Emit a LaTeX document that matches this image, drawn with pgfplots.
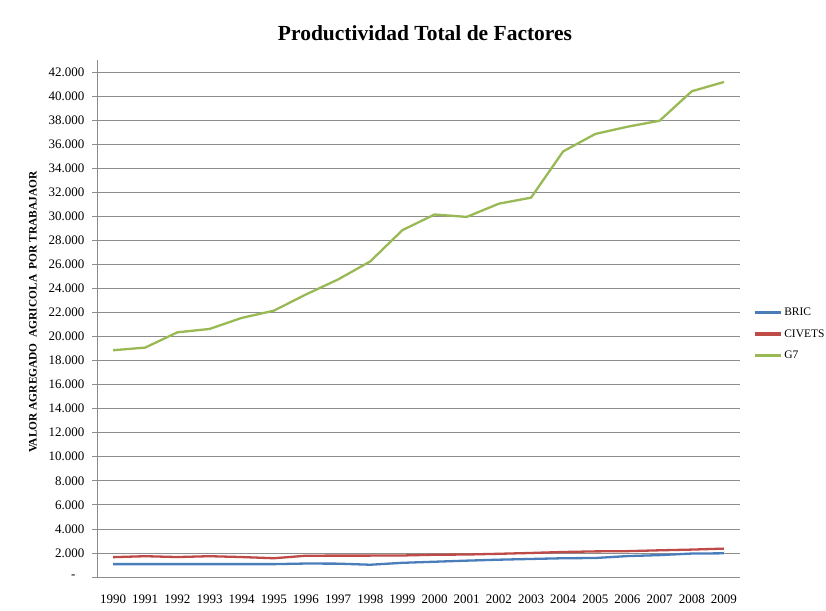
\documentclass[border=0pt]{standalone}
\usepackage{pgfplots}
\pgfplotsset{compat=1.18}
\usepackage{fontspec}
\setmainfont{Liberation Serif}
\definecolor{bric}{HTML}{4A7EBB}
\definecolor{civets}{HTML}{BE4B48}
\definecolor{gseven}{HTML}{98B954}
\definecolor{gridc}{HTML}{8C8C8C}
\begin{document}
\begin{tikzpicture}[x=1pt,y=1pt]
\path[use as bounding box] (-97,-33) rectangle (729,577);
\begin{axis}[
  at={(0,0)}, anchor=south west,
  scale only axis, width=643pt, height=517pt,
  xmin=-0.5, xmax=19.5, ymin=0, ymax=43000,
  scaled y ticks=false,
  axis lines*=left,
  axis line style={gridc, line width=0.8pt},
  xtick={0,...,19},
  xticklabels={1990,1991,1992,1993,1994,1995,1996,1997,1998,1999,2000,2001,2002,2003,2004,2005,2006,2007,2008,2009},
  ytick={0,2000,...,42000},
  yticklabels={-\rule{9pt}{0pt},2.000,4.000,6.000,8.000,10.000,12.000,14.000,16.000,18.000,20.000,22.000,24.000,26.000,28.000,30.000,32.000,34.000,36.000,38.000,40.000,42.000},
  x tick style={draw=none},
  y tick style={gridc, line width=0.8pt},
  tick align=outside, major tick length=5pt,
  ymajorgrids, grid style={gridc, line width=0.8pt},
  ticklabel style={font=\fontsize{13}{15}\selectfont},
  yticklabel style={xshift=-4pt},
  xticklabel style={yshift=-9pt},
  legend style={draw=none, fill=none, at={(1.02,0.47)}, anchor=west,
    font=\fontsize{11.5}{13}\selectfont, row sep=8pt, inner sep=0pt},
  legend cell align=left,
  legend image code/.code={\draw[#1] (0pt,0pt) -- (26pt,0pt);},
  legend image post style={line width=3.2pt},
]
\addplot[bric, line width=2.3pt, line join=round] coordinates {
(0,1070)(1,1070)(2,1070)(3,1070)(4,1070)(5,1070)(6,1120)(7,1110)(8,1020)(9,1180)
(10,1270)(11,1360)(12,1440)(13,1500)(14,1560)(15,1580)(16,1740)(17,1820)(18,1950)(19,1970)};
\addlegendentry{BRIC}
\addplot[civets, line width=2.3pt, line join=round] coordinates {
(0,1650)(1,1730)(2,1660)(3,1730)(4,1660)(5,1560)(6,1770)(7,1780)(8,1780)(9,1790)
(10,1850)(11,1870)(12,1930)(13,2000)(14,2080)(15,2130)(16,2150)(17,2220)(18,2280)(19,2360)};
\addlegendentry{CIVETS}
\addplot[gseven, line width=2.3pt, line join=round] coordinates {
(0,18860)(1,19080)(2,20350)(3,20630)(4,21550)(5,22150)(6,23500)(7,24750)(8,26250)(9,28850)
(10,30150)(11,29950)(12,31050)(13,31550)(14,35400)(15,36850)(16,37450)(17,37950)(18,40400)(19,41170)};
\addlegendentry{G7}
\end{axis}
\node[font=\bfseries\fontsize{21.5}{24}\selectfont] at (328,544) {Productividad Total de Factores};
\node[rotate=90, font=\bfseries\fontsize{11.4}{13}\selectfont] at (-64,265) {VALOR AGREGADO\ \ AGRICOLA\ \ POR TRABAJAOR};
\end{tikzpicture}
\end{document}
